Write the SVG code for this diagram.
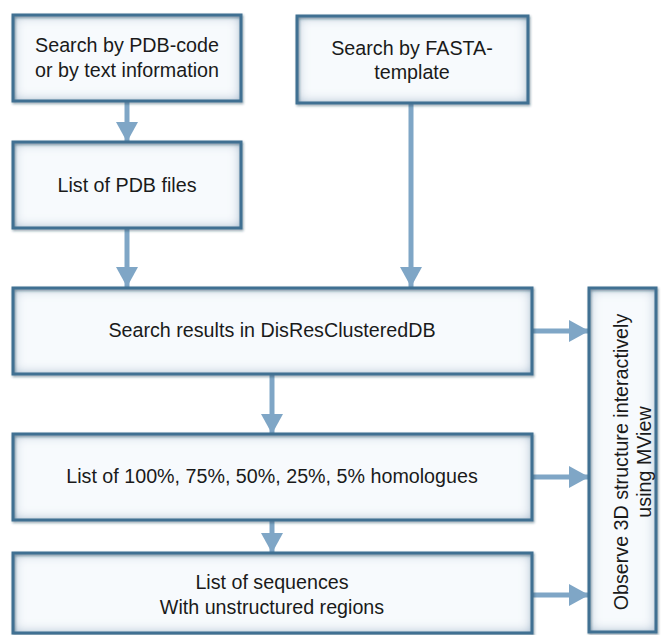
<svg xmlns="http://www.w3.org/2000/svg" width="670" height="635" viewBox="0 0 670 635">
<style>
.fill{fill:#f7fafd;filter:url(#glow)}
.edge{fill:none;stroke:#3f7092;stroke-width:3;filter:url(#shadow)}
.t{font-family:"Liberation Sans",Arial,sans-serif;font-size:19.7px;fill:#1a1a1a;text-anchor:middle}
.arr{stroke:#7fa6c6;stroke-width:5;fill:none;marker-end:url(#head)}
</style>
<defs>
<filter id="glow" x="-10%" y="-10%" width="120%" height="120%">
<feFlood flood-color="#7ea2bf" result="f"/>
<feComposite in="f" in2="SourceAlpha" operator="out" result="o"/>
<feGaussianBlur in="o" stdDeviation="6" result="b"/>
<feComposite in="b" in2="SourceAlpha" operator="in" result="g"/>
<feMerge><feMergeNode in="SourceGraphic"/><feMergeNode in="g"/></feMerge>
</filter>
<filter id="shadow" x="-10%" y="-10%" width="120%" height="120%">
<feDropShadow dx="1" dy="1.5" stdDeviation="1" flood-color="#1f3a4f" flood-opacity="0.45"/>
</filter>
<marker id="head" markerUnits="userSpaceOnUse" markerWidth="22" markerHeight="22" refX="20" refY="11" orient="auto">
<path d="M0,0 L20,11 L0,22 Z" fill="#7fa6c6"/>
</marker>
</defs>
<g id="connectors">
<line class="arr" x1="127" y1="101" x2="127" y2="142"/>
<line class="arr" x1="127" y1="228" x2="127" y2="287"/>
<line class="arr" x1="411" y1="103" x2="411" y2="287"/>
<line class="arr" x1="272" y1="374" x2="272" y2="434"/>
<line class="arr" x1="272" y1="520" x2="272" y2="553"/>
<line class="arr" x1="532" y1="331" x2="589" y2="331"/>
<line class="arr" x1="532" y1="477" x2="589" y2="477"/>
<line class="arr" x1="532" y1="595" x2="589" y2="595"/>
</g>
<g id="pdbsearch">
<rect class="fill" x="13" y="15" width="228" height="86"/>
<rect class="edge" x="13" y="15" width="228" height="86"/>
<text class="t" x="127" y="52">Search by PDB-code</text>
<text class="t" x="127" y="77">or by text information</text>
</g>
<g id="fastasearch">
<rect class="fill" x="297" y="16" width="231" height="87"/>
<rect class="edge" x="297" y="16" width="231" height="87"/>
<text class="t" x="412" y="55">Search by FASTA-</text>
<text class="t" x="412" y="79">template</text>
</g>
<g id="pdbfiles">
<rect class="fill" x="13" y="142" width="228" height="86"/>
<rect class="edge" x="13" y="142" width="228" height="86"/>
<text class="t" x="127" y="192">List of PDB files</text>
</g>
<g id="results">
<rect class="fill" x="13" y="288" width="519" height="86"/>
<rect class="edge" x="13" y="288" width="519" height="86"/>
<text class="t" x="272" y="337">Search results in DisResClusteredDB</text>
</g>
<g id="homologues">
<rect class="fill" x="13" y="434" width="519" height="86"/>
<rect class="edge" x="13" y="434" width="519" height="86"/>
<text class="t" x="272" y="483">List of 100%, 75%, 50%, 25%, 5% homologues</text>
</g>
<g id="sequences">
<rect class="fill" x="13" y="553" width="519" height="80"/>
<rect class="edge" x="13" y="553" width="519" height="80"/>
<text class="t" x="272" y="589">List of sequences</text>
<text class="t" x="272" y="614">With unstructured regions</text>
</g>
<g id="mview">
<rect class="fill" x="589" y="288" width="67" height="344"/>
<rect class="edge" x="589" y="288" width="67" height="344"/>
<text class="t" transform="translate(628,462) rotate(-90)">Observe 3D structure interactively</text>
<text class="t" transform="translate(651,462) rotate(-90)">using MView</text>
</g>
</svg>
